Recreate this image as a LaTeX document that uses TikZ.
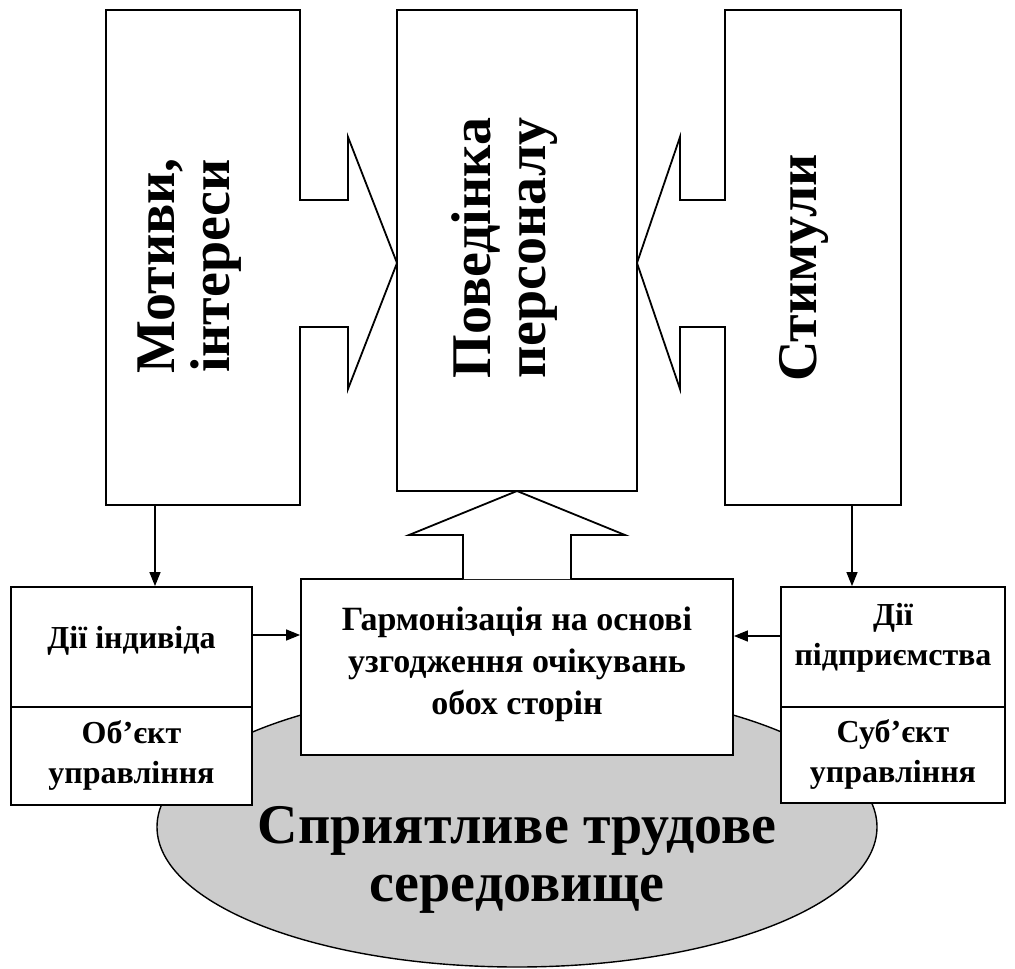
\documentclass[tikz,border=0pt]{standalone}
\usepackage{fontspec}
\setmainfont{Liberation Serif}
\usetikzlibrary{arrows.meta}
\begin{document}
\begin{tikzpicture}[x=1pt,y=-1pt,
  box/.style={draw,line width=1.8pt,fill=white},
  plain/.style={draw,line width=1.8pt,fill=white,rectangle,inner sep=0pt},
  txt/.style={font=\bfseries\fontsize{32}{40}\selectfont,align=center},
  vlabel/.style={rotate=90,font=\bfseries\fontsize{56}{55}\selectfont,align=center},
  link/.style={line width=1.3pt,-{Triangle[length=14pt,width=11pt]}},
  env/.style={draw,line width=1.4pt,fill=black!20}]
\useasboundingbox (0,0) rectangle (1015,969);

% working environment (drawn first, boxes overlap it)
\filldraw[env] (517,827) ellipse [x radius=360, y radius=140];
\node[font=\bfseries\fontsize{56}{58}\selectfont,align=center] (envtext) at (517,860)
  {Сприятливе трудове\\середовище};

% tall block with right-pointing arrow: motives
\path[box] (106,10) -- (300,10) -- (300,200) -- (348,200) -- (348,137)
  -- (397,263) -- (348,389) -- (348,327) -- (300,327) -- (300,505)
  -- (106,505) -- cycle;
\node[vlabel] (motives) at (190,266) {Мотиви,\\інтереси};
\coordinate (motbot) at (155,505);

% central block: behaviour
\node[plain,minimum width=240,minimum height=481] (behav) at (517,250.5) {};
\node[vlabel] (behavtext) at (505,248) {Поведінка\\персоналу};

% tall block with left-pointing arrow: stimuli
\path[box] (725,10) -- (901,10) -- (901,505) -- (725,505) -- (725,327)
  -- (680,327) -- (680,389) -- (637,263) -- (680,137) -- (680,200)
  -- (725,200) -- cycle;
\node[vlabel] (stimuli) at (804,268) {Стимули};
\coordinate (stimbot) at (852,505);

% harmonization block and its upward arrow
\node[plain,minimum width=432,minimum height=176] (harm) at (517,667) {};
\node[txt,font=\bfseries\fontsize{34}{42}\selectfont] (harmtext) at (517,664)
  {Гармонізація на основі\\узгодження очікувань\\обох сторін};
\path[box] (463,579) -- (463,535) -- (409,535) -- (517,491) -- (625,535)
  -- (571,535) -- (571,579);

% left small boxes
\node[plain,minimum width=241,minimum height=120] (indiv) at (131.5,647) {};
\node[txt] (indivtext) at (131.5,641) {Дії індивіда};
\node[plain,minimum width=241,minimum height=98] (obj) at (131.5,756) {};
\node[txt] (objtext) at (131.5,755) {Об’єкт\\управління};

% right small boxes
\node[plain,minimum width=224,minimum height=120] (firm) at (893,647) {};
\node[txt] (firmtext) at (893,638) {Дії\\підприємства};
\node[plain,minimum width=224,minimum height=96] (subj) at (893,755) {};
\node[txt] (subjtext) at (893,754) {Суб’єкт\\управління};

% connectors
\draw[link] (motbot) -- (motbot |- indiv.north);
\draw[link] (stimbot) -- (stimbot |- firm.north);
\draw[link] (indiv.east |- 0,635) -- (harm.west |- 0,635);
\draw[link] (firm.west |- 0,636) -- (harm.east |- 0,636);
\end{tikzpicture}
\end{document}
